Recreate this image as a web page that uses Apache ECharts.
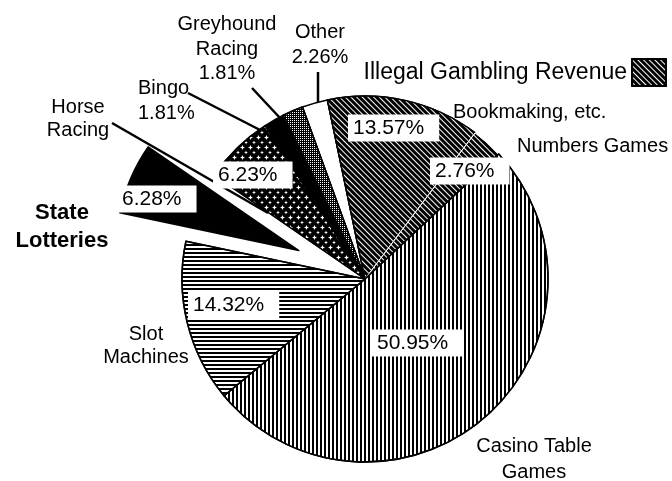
<!DOCTYPE html>
<html><head><meta charset="utf-8">
<script src="https://cdn.jsdelivr.net/npm/echarts@6/dist/echarts.min.js"></script>
<style>html,body{margin:0;padding:0;background:#fff}#c{width:672px;height:481px}</style>
</head><body><div id="c"></div>
<script>
// ---- data ----
const categories = ['Other', 'Bookmaking, etc.', 'Numbers Games', 'Casino Table Games', 'Slot Machines', 'State Lotteries', 'Horse Racing', 'Bingo', 'Greyhound Racing'];
const shares = [2.26, 13.57, 2.76, 50.95, 14.32, 6.28, 6.23, 1.81, 1.81];
const displayNames = ['Other', 'Bookmaking, etc.', 'Numbers Games', 'Casino Table\nGames', 'Slot\nMachines', 'State\nLotteries', 'Horse\nRacing', 'Bingo', 'Greyhound\nRacing'];
const legendLabel = 'Illegal Gambling Revenue';
const legendCategory = 'Bookmaking, etc.';
const shareWithName = ['Other', 'Bingo', 'Greyhound Racing'];
const shareInBox = ['Bookmaking, etc.', 'Numbers Games', 'Casino Table Games', 'Slot Machines', 'State Lotteries', 'Horse Racing'];
const explodedCategory = 'State Lotteries';

// ---- layout / style (kept separate from data) ----
const FONT = 'Liberation Sans';
const CENTER = [365, 279], RADIUS = 183, START = 110, EXPLODE = 72;
const boxPos = {
  'Bookmaking, etc.': [348, 128], 'Numbers Games': [430, 171], 'Casino Table Games': [372, 343],
  'Slot Machines': [188, 305], 'State Lotteries': [117, 199], 'Horse Racing': [213, 175]
};
const namePos = {
  'Other': [320, 45, 'center', 25], 'Bookmaking, etc.': [453, 112, 'left', 22],
  'Numbers Games': [517, 146, 'left', 22], 'Casino Table Games': [534, 459, 'center', 26],
  'Slot Machines': [146, 346, 'center', 23], 'State Lotteries': [62, 227, 'center', 28],
  'Horse Racing': [78, 119, 'center', 23], 'Bingo': [138, 101, 'left', 25],
  'Greyhound Racing': [227, 49, 'center', 24.5]
};
const leaderLines = {
  'Horse Racing': [[112, 123], [190, 168], [268, 213]],
  'Bingo': [[188, 93], [225, 112], [262, 131]],
  'Greyhound Racing': [[252, 88], [266, 103], [281, 119]],
  'Other': [[318, 72], [318, 98], [318, 125]]
};
const illegalHatch = { symbol: 'rect', color: '#fff', dashArrayX: [1, 0], dashArrayY: [1, 3], rotation: Math.PI / 4 };
const starPath = 'path://M0,5 L3.5,3.5 L5,0 L6.5,3.5 L10,5 L6.5,6.5 L5,10 L3.5,6.5 Z';
const sliceStyles = {
  'Other': { color: '#fff' },
  'Bookmaking, etc.': { color: '#000', decal: illegalHatch },
  'Numbers Games': { color: '#000', decal: illegalHatch, borderColor: '#fff', borderWidth: 1 },
  'Casino Table Games': { color: '#fff', decal: { symbol: 'rect', color: '#000', dashArrayX: [2, 2], dashArrayY: [1, 0] } },
  'Slot Machines': { color: '#fff', decal: { symbol: 'rect', color: '#000', dashArrayX: [1, 0], dashArrayY: [2, 2] } },
  'State Lotteries': { color: '#000' },
  'Horse Racing': { color: '#000', decal: { symbol: starPath, symbolSize: 1, color: '#fff', dashArrayX: [[5, 3], [0, 4, 4, 0]], dashArrayY: [5, 0] } },
  'Bingo': { color: '#000' },
  'Greyhound Racing': { color: '#000', decal: { symbol: 'rect', color: '#fff', dashArrayX: [1, 1], dashArrayY: [1, 1] } }
};
const hidden = { color: 'rgba(0,0,0,0)', borderWidth: 0 };

// direction of the exploded slice (from the data)
const total = shares.reduce((a, b) => a + b, 0);
const ei = categories.indexOf(explodedCategory);
const before = shares.slice(0, ei).reduce((a, b) => a + b, 0);
const midDeg = -START + (before + shares[ei] / 2) / total * 360;
const explodedCenter = [CENTER[0] + EXPLODE * Math.cos(midDeg * Math.PI / 180), CENTER[1] + EXPLODE * Math.sin(midDeg * Math.PI / 180)];

const percentLabel = {
  show: true, position: 'inside', formatter: p => p.value.toFixed(2) + '%',
  fontFamily: FONT, fontSize: 21, color: '#000', backgroundColor: '#fff',
  padding: [3, 15, 3, 5], lineHeight: 21
};
const boxLayout = p => {
  const b = boxPos[categories[p.dataIndex]];
  return b ? { x: b[0], y: b[1], align: 'left', verticalAlign: 'middle' } : {};
};

const chart = echarts.init(document.getElementById('c'), null, { renderer: 'canvas' });
chart.setOption({
  animation: false,
  backgroundColor: '#fff',
  legend: {
    data: [legendCategory], formatter: () => legendLabel, selectedMode: false,
    right: 5, top: 58, padding: 0, align: 'right', itemWidth: 34, itemHeight: 27, icon: 'rect',
    textStyle: { fontFamily: FONT, fontSize: 23, color: '#000' }
  },
  series: [
    {
      type: 'pie', center: CENTER, radius: RADIUS, startAngle: START, clockwise: true,
      avoidLabelOverlap: false, emphasis: { disabled: true },
      itemStyle: { borderColor: '#000', borderWidth: 1.5 },
      label: percentLabel, labelLine: { show: false }, labelLayout: boxLayout,
      data: categories.map((n, i) => ({
        name: n, value: shares[i],
        itemStyle: n === explodedCategory ? hidden : sliceStyles[n],
        label: { show: shareInBox.includes(n) && n !== explodedCategory }
      }))
    },
    {
      type: 'pie', center: explodedCenter, radius: RADIUS, startAngle: START, clockwise: true,
      silent: true, avoidLabelOverlap: false, legendHoverLink: false,
      itemStyle: { borderColor: '#000', borderWidth: 1.5 },
      label: percentLabel, labelLine: { show: false }, labelLayout: boxLayout,
      data: categories.map((n, i) => ({
        name: n, value: shares[i],
        itemStyle: n === explodedCategory ? sliceStyles[n] : hidden,
        label: { show: n === explodedCategory }
      }))
    },
    {
      type: 'pie', center: CENTER, radius: RADIUS, startAngle: START, clockwise: true,
      silent: true, avoidLabelOverlap: false, legendHoverLink: false,
      itemStyle: hidden,
      label: {
        show: true, position: 'outside', fontFamily: FONT, fontSize: 20, color: '#000',
        formatter: p => displayNames[p.dataIndex] + (shareWithName.includes(p.name) ? '\n' + p.value.toFixed(2) + '%' : '')
      },
      labelLine: { show: false, lineStyle: { color: '#000', width: 2.5 } },
      labelLayout: p => {
        const n = categories[p.dataIndex];
        const q = namePos[n];
        const o = { x: q[0], y: q[1], align: q[2], verticalAlign: 'middle' };
        if (leaderLines[n]) o.labelLinePoints = leaderLines[n];
        return o;
      },
      data: categories.map((n, i) => ({
        name: n, value: shares[i],
        labelLine: { show: !!leaderLines[n] },
        label: Object.assign({ lineHeight: namePos[n][3] }, n === explodedCategory ? { fontWeight: 'bold', fontSize: 22 } : {})
      }))
    }
  ]
});
</script></body></html>
